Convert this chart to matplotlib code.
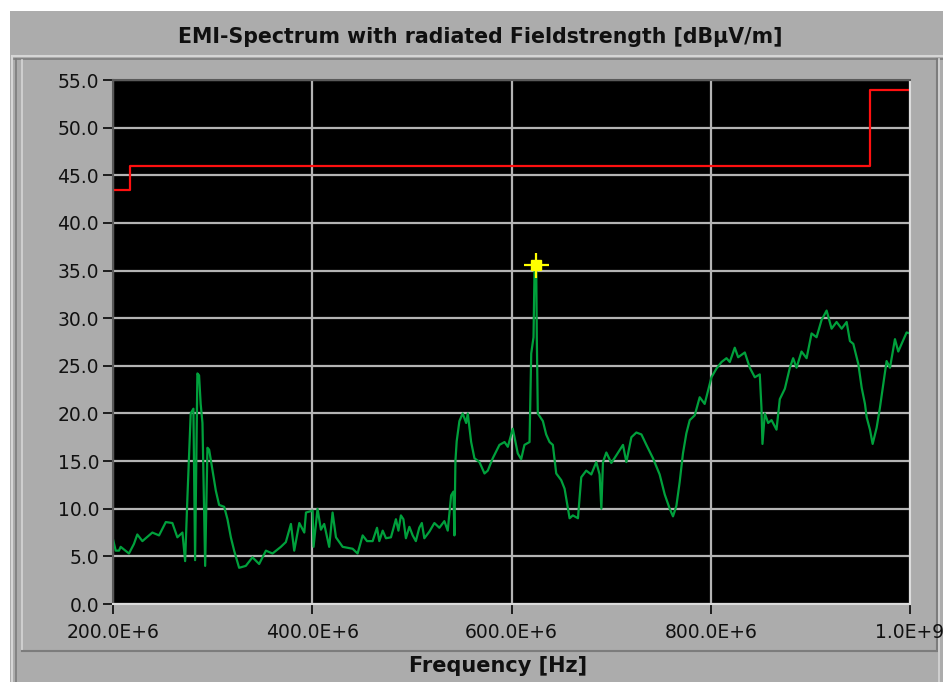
import matplotlib
matplotlib.use("Agg")
import matplotlib.pyplot as plt
from matplotlib.patches import Rectangle
from matplotlib.lines import Line2D

# frequency in MHz, level in dBuV/m
freq_mhz = [
    200.0, 202.7, 206.0, 207.7, 216.0, 221.0, 224.4, 229.5, 239.5, 246.2,
    253.0, 259.6, 264.6, 269.7, 272.4, 274.7, 278.0, 280.7, 282.4, 284.7,
    286.4, 288.0, 289.8, 292.5, 294.8, 296.5, 299.8, 303.2, 306.5, 311.6,
    314.9, 318.3, 321.6, 326.6, 333.3, 340.0, 346.7, 353.5, 360.1, 368.5,
    373.5, 378.6, 381.9, 387.0, 392.0, 393.7, 400.3, 401.3, 405.3, 408.7,
    412.0, 417.0, 420.4, 423.8, 430.5, 440.5, 445.5, 450.6, 455.0, 460.6,
    465.0, 467.3, 470.7, 474.0, 479.0, 484.0, 486.5, 489.0, 491.5, 494.0,
    497.5, 500.8, 504.0, 507.4, 510.0, 512.5, 517.6, 522.6, 527.6, 532.6,
    536.0, 537.7, 539.4, 541.7, 542.7, 543.7, 545.0, 547.7, 551.0, 554.5,
    556.1, 559.5, 562.8, 567.8, 572.9, 576.2, 581.2, 587.9, 593.0, 596.3,
    601.3, 604.0, 606.3, 609.7, 613.0, 618.1, 619.8, 622.1, 623.1, 624.8,
    625.4, 626.4, 631.5, 634.8, 638.2, 641.5, 644.9, 649.9, 653.3, 658.3,
    661.6, 666.7, 670.0, 675.0, 680.1, 685.1, 688.4, 690.2, 691.8, 695.2,
    700.2, 705.2, 711.9, 715.3, 720.3, 725.3, 730.4, 735.4, 742.0, 748.7,
    753.8, 758.8, 762.1, 765.5, 768.8, 772.1, 775.5, 778.9, 783.9, 788.9,
    793.9, 797.3, 800.7, 805.7, 810.8, 815.8, 819.1, 824.1, 827.5, 834.2,
    839.2, 844.2, 849.2, 850.9, 851.9, 854.3, 857.6, 861.0, 866.0, 869.3,
    874.4, 879.4, 882.7, 886.1, 891.1, 896.2, 901.2, 906.2, 911.2, 916.3,
    921.3, 926.3, 931.4, 936.4, 939.7, 943.1, 948.1, 951.5, 954.8, 956.5,
    959.8, 962.5, 966.5, 969.8, 973.2, 976.5, 979.9, 984.9, 988.2, 991.6,
    996.6, 1000.0,
]
level_db = [
    6.8, 5.6, 5.6, 6.0, 5.3, 6.3, 7.3, 6.6, 7.5, 7.2,
    8.6, 8.5, 7.0, 7.5, 4.5, 11.2, 20.0, 20.5, 4.6, 24.2,
    24.0, 21.0, 19.0, 4.0, 16.4, 16.2, 14.1, 11.9, 10.4, 10.2,
    8.9, 7.0, 5.6, 3.8, 4.0, 4.9, 4.2, 5.6, 5.3, 6.0,
    6.5, 8.4, 5.6, 8.5, 7.5, 9.6, 9.8, 6.0, 10.0, 7.8,
    8.4, 6.0, 9.6, 7.0, 6.0, 5.8, 5.3, 7.2, 6.6, 6.6,
    8.0, 6.6, 7.7, 6.9, 7.0, 8.9, 7.7, 9.3, 8.9, 6.9,
    8.1, 7.2, 6.6, 8.0, 8.5, 6.9, 7.6, 8.5, 8.0, 8.7,
    7.7, 9.5, 11.4, 11.8, 7.2, 15.0, 17.1, 19.2, 20.0, 19.0,
    20.0, 17.0, 15.3, 14.9, 13.7, 14.0, 15.3, 16.7, 17.0, 16.5,
    18.4, 17.0, 15.8, 15.2, 16.7, 17.0, 26.3, 28.0, 35.0, 35.7,
    28.0, 20.0, 19.2, 17.8, 17.0, 16.7, 13.7, 13.0, 12.1, 9.0,
    9.3, 9.0, 13.3, 14.0, 13.6, 14.9, 13.6, 10.0, 14.9, 15.9,
    14.8, 15.6, 16.7, 14.9, 17.5, 18.0, 17.8, 16.7, 15.3, 13.6,
    11.5, 10.0, 9.2, 10.3, 12.8, 15.8, 17.9, 19.3, 19.8, 21.7,
    21.0, 22.4, 23.8, 24.7, 25.4, 25.8, 25.4, 26.9, 25.9, 26.4,
    24.8, 23.8, 24.1, 20.6, 16.8, 20.0, 19.0, 19.3, 18.3, 21.5,
    22.6, 24.8, 25.8, 24.8, 26.5, 25.8, 28.4, 28.0, 29.8, 30.8,
    28.9, 29.6, 28.9, 29.6, 27.6, 27.3, 25.2, 22.7, 21.0, 19.6,
    18.3, 16.8, 18.5, 20.6, 23.1, 25.5, 24.8, 27.8, 26.5, 27.3,
    28.5, 28.4,
]

# limit line (step edges in MHz, level in dBuV/m)
limit_mhz = [200, 217, 217, 960, 960, 1000]
limit_db = [43.5, 43.5, 46.0, 46.0, 54.0, 54.0]

peak_mhz = 624.8
peak_db = 35.6

x_ticks = [200e6, 400e6, 600e6, 800e6, 1000e6]
x_labels = ["200.0E+6", "400.0E+6", "600.0E+6", "800.0E+6", "1.0E+9"]
y_ticks = [0, 5, 10, 15, 20, 25, 30, 35, 40, 45, 50, 55]

W, H = 943, 682
fig = plt.figure(figsize=(W / 100, H / 100), dpi=100, facecolor="white")


def px_rect(x0, y0, x1, y1, **kw):
    # rectangle given in pixel coords (origin top-left)
    fig.patches.append(Rectangle((x0 / W, 1 - y1 / H), (x1 - x0) / W, (y1 - y0) / H,
                                 transform=fig.transFigure, figure=fig, zorder=-10, **kw))


def px_line(xs, ys, **kw):
    fig.lines.append(Line2D([x / W for x in xs], [1 - y / H for y in ys],
                            transform=fig.transFigure, figure=fig, zorder=-5, **kw))


# grey panel and bevel frames
px_rect(10, 11, W + 2, H + 2, facecolor="#acacac", edgecolor="none")
px_line([12, W], [56, 56], color="#d6d6d6", lw=1.5)
px_line([14, W], [59, 59], color="#7c7c7c", lw=1.2)
px_line([12, 12], [56, H], color="#d6d6d6", lw=1.5)
px_line([16, 16], [59, H], color="#7c7c7c", lw=1.2)
px_line([22, 22], [60, 651], color="#d6d6d6", lw=1.2)
px_line([22, 937], [651, 651], color="#7c7c7c", lw=1.5)
px_line([937, 937], [59, 651], color="#7c7c7c", lw=1.5)
px_line([939, 939], [59, H], color="#d6d6d6", lw=1.2)

fig.text(480 / W, 1 - 37 / H, "EMI-Spectrum with radiated Fieldstrength [dBµV/m]",
         ha="center", va="center", fontsize=14.8, fontweight="bold",
         family="DejaVu Sans", color="#101010")

ax = fig.add_axes([113 / W, 1 - 604 / H, (910 - 113) / W, (604 - 80) / H])
ax.set_facecolor("black")
ax.set_xlim(200e6, 1000e6)
ax.set_ylim(0, 55)
ax.set_xticks(x_ticks)
ax.set_xticklabels(x_labels)
ax.set_yticks(y_ticks)
ax.set_yticklabels([f"{v:.1f}" for v in y_ticks])
ax.grid(True, color="#b4b4b4", lw=1.6)
ax.set_axisbelow(True)
ax.tick_params(axis="both", colors="#111111", labelsize=13.5, width=1.3, length=7)
ax.tick_params(axis="y", pad=3)
ax.tick_params(axis="x", pad=7)
for side in ("left", "top"):
    ax.spines[side].set_color("#5a5a5a")
    ax.spines[side].set_linewidth(1.5)
for side in ("right", "bottom"):
    ax.spines[side].set_color("#dcdcdc")
    ax.spines[side].set_linewidth(1.5)

ax.plot([f * 1e6 for f in limit_mhz], limit_db, color="#ff1010", lw=1.6)
ax.plot([f * 1e6 for f in freq_mhz], level_db, color="#00a03c", lw=1.6)
ax.plot([peak_mhz * 1e6], [peak_db], marker="+", ms=18, mew=1.6, color="#ffff00")
ax.plot([peak_mhz * 1e6], [peak_db], marker="s", ms=7, color="#ffff00", mec="#ffff00")

fig.text(498 / W, 1 - 666 / H, "Frequency [Hz]", ha="center", va="center",
         fontsize=15, fontweight="bold", family="DejaVu Sans", color="#101010")

fig.savefig("out.png", dpi=100, facecolor="white")
